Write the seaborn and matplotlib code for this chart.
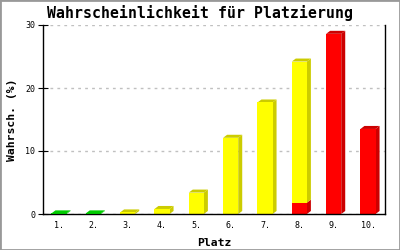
import matplotlib
matplotlib.use("Agg")
import matplotlib.pyplot as plt
from matplotlib.patches import Polygon, Rectangle
import seaborn as sns
import numpy as np
import pandas as pd

# ---- data ----
places = ["1.", "2.", "3.", "4.", "5.", "6.", "7.", "8.", "9.", "10."]
red_vals = [0, 0, 0, 0, 0, 0, 0, 1.8, 28.6, 13.5]
green_vals = [0.1, 0.1, 0, 0, 0, 0, 0, 0, 0, 0]
yellow_vals = [0, 0, 0.25, 0.8, 3.4, 12.1, 17.7, 22.4, 0, 0]
yticks = [0, 10, 20, 30]
title = "Wahrscheinlichkeit für Platzierung"
xlabel = "Platz"
ylabel = "Wahrsch. (%)"

# layers drawn bottom to top: (values, front colour, side/top colour)
layers = [
    (red_vals, "#ff0000", "#cc0000"),
    (green_vals, "#00ee00", "#00cc00"),
    (yellow_vals, "#ffff00", "#cccc00"),
]

sns.set_theme(style="white")
plt.rcParams["font.family"] = ["DejaVu Sans Mono", "DejaVu Sans"]

W, H, DPI = 400, 250, 100
fig = plt.figure(figsize=(W / DPI, H / DPI), dpi=DPI)
fig.patch.set_facecolor("white")
ax_l, ax_r, ax_t, ax_b = 43, 385, 25, 214
ax = fig.add_axes([ax_l / W, 1 - ax_b / H, (ax_r - ax_l) / W, (ax_b - ax_t) / H])
ax.set_facecolor("white")

xlim = (-0.466, 9.495)
ylim = (0, 30)
ax.set_xlim(*xlim)
ax.set_ylim(*ylim)
# pixel -> data conversions for the 3D offset
px_x = (xlim[1] - xlim[0]) / (ax_r - ax_l)
px_y = (ylim[1] - ylim[0]) / (ax_b - ax_t)
dx, dy = 4 * px_x, 3 * px_y

bar_w = 0.44
bottoms = np.zeros(len(places))
tops = np.array([sum(v[i] for v, _, _ in layers) for i in range(len(places))])
for vals, front, dark in layers:
    vals = np.asarray(vals, dtype=float)
    df = pd.DataFrame({"place": places, "value": vals})
    n_before = len(ax.patches)
    sns.barplot(data=df, x="place", y="value", color=front, saturation=1,
                width=bar_w, bottom=bottoms, ax=ax, linewidth=0,
                edgecolor="none", errorbar=None, zorder=3)
    new = ax.patches[n_before:]
    for i, p in enumerate(new):
        if vals[i] <= 0:
            continue
        x0 = p.get_x()
        x1 = x0 + p.get_width()
        b = p.get_y()
        h = b + p.get_height()
        side = Polygon([(x1, b), (x1 + dx, b + dy), (x1 + dx, h + dy), (x1, h)],
                       closed=True, facecolor=dark, edgecolor="none", zorder=2.9)
        ax.add_patch(side)
        if abs(h - tops[i]) < 1e-9:
            top = Polygon([(x0, h), (x1, h), (x1 + dx, h + dy), (x0 + dx, h + dy)],
                          closed=True, facecolor=dark, edgecolor="none", zorder=2.9)
            ax.add_patch(top)
    bottoms = bottoms + vals

ax.set_xlim(*xlim)
ax.set_ylim(*ylim)
ax.set_yticks(yticks)
ax.set_yticklabels([str(t) for t in yticks])

# grid
ax.set_axisbelow(True)
ax.yaxis.grid(True, color="#c0c0c0", linestyle=(0, (2, 3)), linewidth=1)
ax.xaxis.grid(False)

# spines
for s in ["left", "bottom", "right"]:
    ax.spines[s].set_visible(True)
    ax.spines[s].set_color("black")
    ax.spines[s].set_linewidth(1.0)
    ax.spines[s].set_zorder(4)
ax.spines["top"].set_visible(False)

ax.tick_params(axis="y", direction="inout", length=7, width=0.8, color="black",
               labelsize=6, pad=2, left=True, labelcolor="black")
ax.tick_params(axis="x", length=0, labelsize=6, pad=5, labelcolor="black")

ax.set_xlabel(xlabel, fontsize=8.2, fontweight="bold", color="black")
ax.set_ylabel(ylabel, fontsize=8.2, fontweight="bold", color="black")
ax.xaxis.set_label_coords(0.5, -0.127)
ax.yaxis.set_label_coords(-0.076, 0.5)

fig.text(0.5, 1 - 13 / H, title, ha="center", va="center", fontsize=10.7,
         fontweight="bold", color="black")

fig.add_artist(Rectangle((0, 0), 1, 1, transform=fig.transFigure, fill=False,
                         edgecolor="#999999", linewidth=2))

fig.savefig("out.png", dpi=DPI, facecolor="white")
